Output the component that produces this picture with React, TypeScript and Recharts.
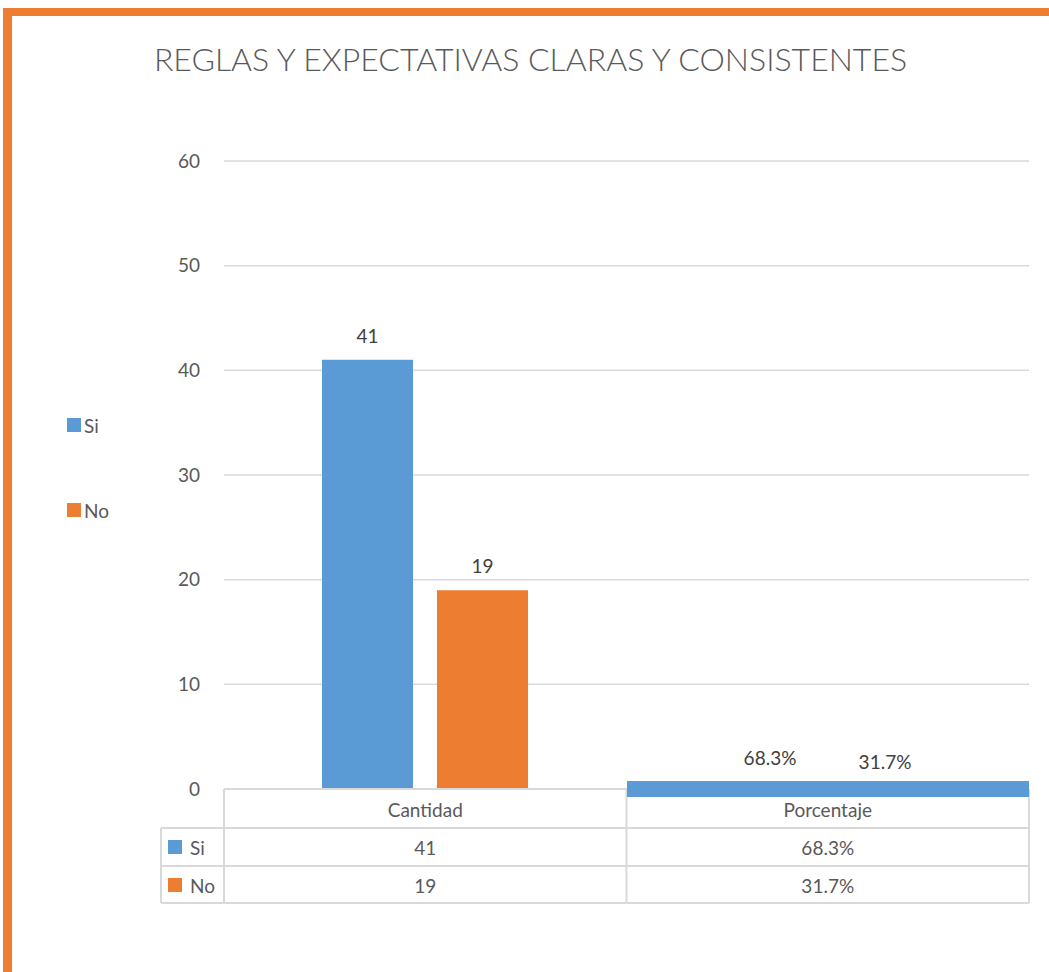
import { Bar, BarChart, CartesianGrid, LabelList, XAxis, YAxis } from "recharts";

const categories = ["Cantidad", "Porcentaje"];
const siValues = [41, 0.683];
const noValues = [19, 0.317];
const siLabels = ["41", "68.3%"];
const noLabels = ["19", "31.7%"];
const yTicks = [0, 10, 20, 30, 40, 50, 60];

const BLUE = "#5B9BD5";
const ORANGE = "#ED7D31";
const GRID = "#D9D9D9";
const TEXT = "#595959";
const FONT = "Lato, 'Open Sans', sans-serif";

const W = 1049;
const H = 972;
const PLOT_LEFT = 224;
const PLOT_RIGHT = 1029;
const PLOT_BOTTOM = 789;
const BAND = (PLOT_RIGHT - PLOT_LEFT) / categories.length;
const TABLE_H = 114;

const rows = categories.map((name, i) => ({
  name,
  si: siValues[i],
  no: noValues[i],
  siLabel: siLabels[i],
  noLabel: noLabels[i],
}));

const series = [
  { name: "Si", color: BLUE, labels: siLabels },
  { name: "No", color: ORANGE, labels: noLabels },
];

// data table under the x axis, one band per tick
function TableTick(props: any) {
  const { x, y, payload } = props;
  const i = payload.index;
  const left = x - BAND / 2;
  const right = x + BAND / 2;
  const rowY = [y + 39, y + 77, y + TABLE_H];
  const keyLeft = left - 63;
  return (
    <g fontFamily={FONT} fontSize={19}>
      {i === 0 && <line x1={left} x2={left} y1={y} y2={y + TABLE_H} stroke={GRID} strokeWidth={2} />}
      <line x1={right} x2={right} y1={y} y2={y + TABLE_H} stroke={GRID} strokeWidth={2} />
      {rowY.map((ry) => (
        <line key={ry} x1={i === 0 ? keyLeft : left} x2={right} y1={ry} y2={ry} stroke={GRID} strokeWidth={2} />
      ))}
      {i === 0 && <line x1={keyLeft} x2={keyLeft} y1={rowY[0]} y2={rowY[2]} stroke={GRID} strokeWidth={2} />}
      <text x={x} y={y + 20} textAnchor="middle" dominantBaseline="central" fill={TEXT}>
        {categories[i]}
      </text>
      {series.map((s, r) => (
        <g key={s.name}>
          <text x={x} y={y + 58 + r * 38} textAnchor="middle" dominantBaseline="central" fill={TEXT}>
            {s.labels[i]}
          </text>
          {i === 0 && (
            <>
              <rect x={keyLeft + 7} y={y + 51 + r * 38} width={14} height={14} fill={s.color} />
              <text x={keyLeft + 29} y={y + 58 + r * 38} dominantBaseline="central" fill={TEXT}>
                {s.name}
              </text>
            </>
          )}
        </g>
      ))}
    </g>
  );
}

function SideLegend() {
  return (
    <div style={{ position: "absolute", left: 67, top: 413, fontFamily: FONT, fontSize: 19, color: TEXT }}>
      {series.map((s, r) => (
        <div key={s.name} style={{ display: "flex", alignItems: "center", height: 24, marginBottom: r === 0 ? 61 : 0 }}>
          <span style={{ width: 14, height: 14, background: s.color, display: "inline-block", marginRight: 3 }} />
          {s.name}
        </div>
      ))}
    </div>
  );
}

export default function App() {
  return (
    <div style={{ position: "absolute", left: 0, top: 0, width: W, height: H, background: "#fff" }}>
      <div style={{ position: "absolute", left: 3, top: 8, right: 0, height: 8, background: ORANGE }} />
      <div style={{ position: "absolute", left: 3, top: 8, width: 9, bottom: 0, background: ORANGE }} />
      <div
        style={{
          position: "absolute",
          left: 12,
          right: 0,
          top: 37,
          textAlign: "center",
          fontFamily: FONT,
          fontWeight: 300,
          fontSize: 32,
          color: TEXT,
          lineHeight: "44px",
        }}
      >
        REGLAS Y EXPECTATIVAS CLARAS Y CONSISTENTES
      </div>
      <BarChart
        width={W}
        height={H}
        data={rows}
        margin={{ top: 161, right: W - PLOT_RIGHT, bottom: H - PLOT_BOTTOM - TABLE_H, left: PLOT_LEFT - 60 }}
        barSize={91}
        barGap={24}
        style={{ position: "absolute", left: 0, top: 0 }}
      >
        <CartesianGrid vertical={false} stroke={GRID} strokeWidth={1.5} />
        <YAxis
          width={60}
          domain={[0, 60]}
          ticks={yTicks}
          axisLine={false}
          tickLine={false}
          tickSize={0}
          tickMargin={24}
          tick={{ fill: TEXT, fontSize: 19, fontFamily: FONT }}
        />
        <XAxis
          dataKey="name"
          height={TABLE_H}
          axisLine={{ stroke: GRID, strokeWidth: 2 }}
          tickLine={false}
          tickSize={0}
          tickMargin={0}
          interval={0}
          tick={<TableTick />}
        />
        <Bar dataKey="si" name="Si" fill={BLUE} isAnimationActive={false}>
          <LabelList dataKey="siLabel" position="top" offset={17} fill="#404040" fontSize={19} fontFamily={FONT} />
        </Bar>
        <Bar dataKey="no" name="No" fill={ORANGE} isAnimationActive={false}>
          <LabelList dataKey="noLabel" position="top" offset={17} fill="#404040" fontSize={19} fontFamily={FONT} />
        </Bar>
      </BarChart>
      {/* blue strip over the Porcentaje band, as in the source image */}
      <div
        style={{
          position: "absolute",
          left: PLOT_LEFT + BAND,
          top: PLOT_BOTTOM - 8,
          width: BAND,
          height: 16,
          background: BLUE,
        }}
      />
      <SideLegend />
    </div>
  );
}
